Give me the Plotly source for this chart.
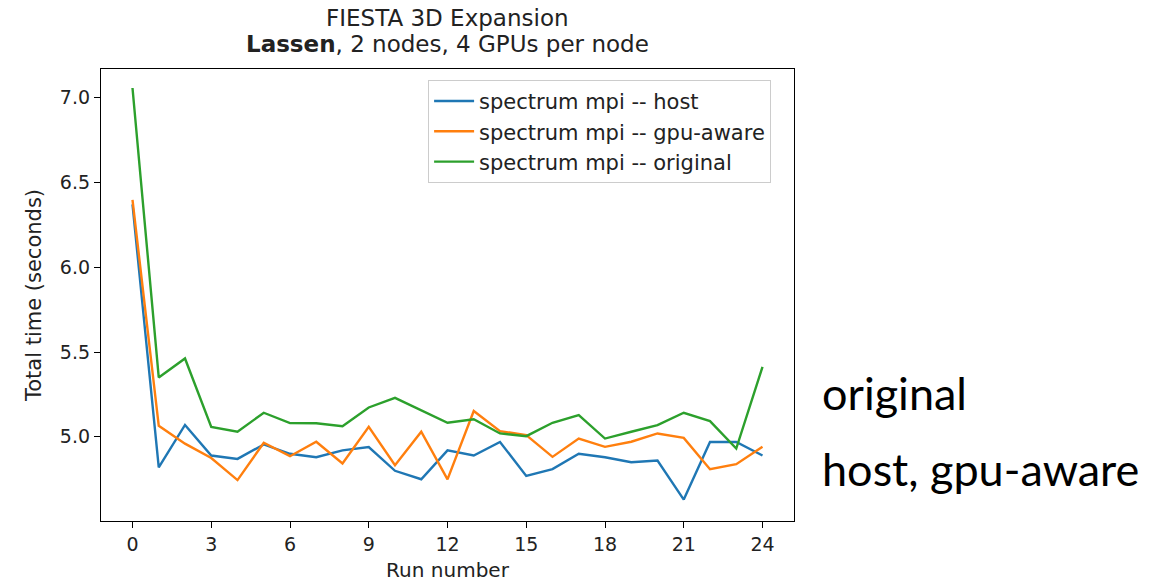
import plotly.graph_objects as go

runs = list(range(25))
host = [6.37, 4.82, 5.07, 4.89, 4.87, 4.955, 4.90, 4.88, 4.92, 4.94, 4.80, 4.75, 4.92,
        4.89, 4.97, 4.77, 4.81, 4.90, 4.88, 4.85, 4.86, 4.63, 4.97, 4.97, 4.89]
gpu_aware = [6.396, 5.065, 4.96, 4.875, 4.745, 4.965, 4.886, 4.971, 4.843, 5.059, 4.833, 5.03, 4.749,
             5.152, 5.034, 5.01, 4.882, 4.99, 4.941, 4.971, 5.02, 4.994, 4.809, 4.839, 4.941]
original = [7.056, 5.35, 5.462, 5.059, 5.03, 5.142, 5.081, 5.08, 5.063, 5.173, 5.23, 5.158, 5.083,
            5.104, 5.02, 5.004, 5.083, 5.128, 4.99, 5.03, 5.069, 5.142, 5.093, 4.931, 5.413]

series = [
    ("spectrum mpi -- host", host, "#1f77b4"),
    ("spectrum mpi -- gpu-aware", gpu_aware, "#ff7f0e"),
    ("spectrum mpi -- original", original, "#2ca02c"),
]

x_ticks = list(range(0, 25, 3))
y_ticks = [5.0, 5.5, 6.0, 6.5, 7.0]
y_tick_text = ["5.0", "5.5", "6.0", "6.5", "7.0"]

title_line1 = "FIESTA 3D Expansion"
title_line2 = "<b>Lassen</b>, 2 nodes, 4 GPUs per node"
side_notes = ["original", "host, gpu-aware"]

font_main = "DejaVu Sans"
txt = "#222222"
H = 451.4
BOT = 520.7

fig = go.Figure()
for name, vals, color in series:
    fig.add_trace(go.Scatter(x=runs, y=vals, mode="lines", name=name,
                             line=dict(color=color, width=2.4)))

fig.update_layout(
    width=1165, height=585,
    margin=dict(l=101, r=371, t=69, b=64),
    paper_bgcolor="white", plot_bgcolor="white",
    font=dict(family=font_main, color=txt),
    showlegend=True,
    legend=dict(
        x=0.472, xanchor="left", y=0.976, yanchor="top",
        bgcolor="rgba(255,255,255,0.9)", bordercolor="#cccccc", borderwidth=1,
        font=dict(family=font_main, size=21, color=txt),
        tracegroupgap=0, itemwidth=40,
    ),
)

fig.update_xaxes(
    automargin=False,
    range=[-1.2, 25.2], tickmode="array", tickvals=x_ticks,
    showgrid=False, zeroline=False, showline=True, mirror=True,
    linecolor="black", linewidth=1.3, ticks="outside", ticklen=6, tickcolor="black",
    tickfont=dict(family=font_main, size=19, color=txt),
    title=dict(text="Run number", font=dict(family=font_main, size=20, color=txt), standoff=9),
)
fig.update_yaxes(
    automargin=False,
    range=[4.504, 7.168], tickmode="array", tickvals=y_ticks, ticktext=y_tick_text,
    showgrid=False, zeroline=False, showline=True, mirror=True,
    linecolor="black", linewidth=1.3, ticks="outside", ticklen=6, tickcolor="black",
    tickfont=dict(family=font_main, size=19, color=txt),
    title=dict(text="Total time (seconds)", font=dict(family=font_main, size=21, color=txt), standoff=12),
)

fig.add_annotation(text=title_line1, xref="paper", yref="paper", x=0.5, xanchor="center",
                   y=(BOT - 18) / H, yanchor="middle", showarrow=False,
                   font=dict(family=font_main, size=23, color=txt))
fig.add_annotation(text=title_line2, xref="paper", yref="paper", x=0.5, xanchor="center",
                   y=(BOT - 44) / H, yanchor="middle", showarrow=False,
                   font=dict(family=font_main, size=23, color=txt))

for note, py in zip(side_notes, [393, 469]):
    fig.add_annotation(text=note, xref="paper", yref="paper",
                       x=1.037, xanchor="left", y=(BOT - py) / H, yanchor="middle",
                       showarrow=False, font=dict(family="Lato", size=45, color="black"))

fig.write_html("out.html")
